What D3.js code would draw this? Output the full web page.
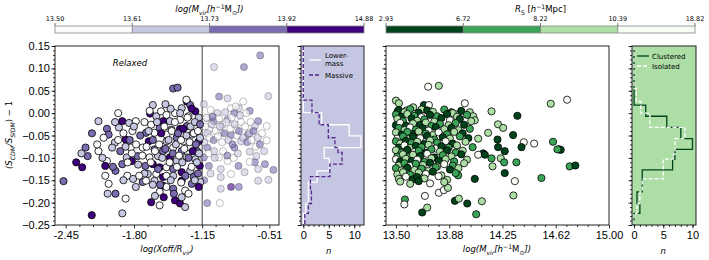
<!DOCTYPE html>
<html>
<head>
<meta charset="utf-8">
<script src="https://cdn.jsdelivr.net/npm/d3@7"></script>
<style>
  body { margin: 0; background: #fff; }
  svg { font-family: "DejaVu Sans", sans-serif; }
</style>
</head>
<body>
<svg id="chart" width="709" height="260"></svg>
<script>
// ---- data ----
const yTicks = [0.15, 0.10, 0.05, 0.00, -0.05, -0.10, -0.15, -0.20, -0.25];
const xoffTicks = [-2.45, -1.80, -1.15, -0.51];
const xoffTickLabels = ["-2.45", "-1.80", "-1.15", "-0.51"];
const massTicks = [13.50, 13.875, 14.25, 14.625, 15.00];
const massTickLabels = ["13.50", "13.88", "14.25", "14.62", "15.00"];
const massBinLabels = ["13.50", "13.61", "13.73", "13.92", "14.88"];
const r5BinLabels = ["2.93", "6.72", "8.22", "10.39", "18.82"];
const nTicks = [0, 5, 10];
const relaxedCut = -1.15;

// [log(Xoff/Rvir), S_CDM/S_SIDM - 1, mass bin]
const offsetPoints = [
  [-0.597,0.129,2],[-1.037,0.103,1],[-0.752,0.103,2],[-0.519,0.038,1],[-0.989,0.037,2],[-0.759,0.026,0],
  [-0.908,0.033,1],[-1.134,0.020,1],[-0.875,0.011,0],[-0.801,0.011,1],[-0.697,0.005,2],[-0.617,-0.018,2],
  [-1.070,0.007,0],[-1.005,0.000,1],[-0.843,0.000,2],[-0.649,-0.029,1],[-0.536,-0.029,0],[-0.536,-0.061,0],
  [-0.714,-0.048,2],[-0.827,-0.037,0],[-0.956,-0.026,1],[-0.908,-0.015,2],[-1.037,-0.018,2],[-1.102,-0.011,1],
  [-1.086,-0.037,0],[-0.973,-0.044,0],[-0.875,-0.049,2],[-0.778,-0.063,1],[-0.843,-0.077,2],[-0.697,-0.086,1],
  [-0.633,-0.096,1],[-0.649,-0.110,2],[-0.552,-0.114,2],[-0.617,-0.125,1],[-0.697,-0.109,0],[-0.804,-0.118,2],
  [-0.746,-0.132,1],[-0.989,-0.099,0],[-1.037,-0.085,1],[-1.102,-0.077,2],[-1.134,-0.099,2],[-1.086,-0.118,2],
  [-0.973,-0.125,1],[-0.908,-0.107,0],[-0.875,-0.136,0],[-0.973,-0.143,1],[-0.875,-0.165,3],[-0.973,-0.169,1],
  [-1.102,-0.201,2],[-0.982,-0.201,0],[-0.519,-0.149,1],[-0.471,-0.127,2],[-0.617,-0.151,1],[-0.801,-0.165,2],
  [-1.12,-0.030,0],[-1.10,-0.045,1],[-1.08,-0.055,0],[-1.06,-0.025,1],[-1.04,-0.060,2],[-1.02,-0.040,0],
  [-1.00,-0.052,0],[-0.98,-0.030,1],[-0.96,-0.065,0],[-0.94,-0.045,2],[-0.92,-0.020,0],[-0.90,-0.060,1],
  [-0.88,-0.035,0],[-0.86,-0.070,2],[-0.84,-0.025,1],[-0.82,-0.050,0],[-0.80,-0.040,2],[-0.78,-0.020,0],
  [-0.76,-0.055,1],[-0.74,-0.030,0],[-0.72,-0.065,2],[-0.70,-0.045,1],[-0.68,-0.060,0],[-0.66,-0.040,2],
  [-0.64,-0.075,0],[-0.62,-0.055,1],[-1.13,-0.065,1],[-1.11,-0.010,0],[-1.05,-0.008,2],[-0.99,-0.012,0],
  [-0.93,0.002,1],[-0.87,-0.010,0],[-0.83,0.015,0],[-0.79,-0.005,1],[-0.73,0.000,0],[-0.69,-0.020,0],
  [-1.09,-0.090,0],[-1.03,-0.100,1],[-0.95,-0.085,0],[-0.91,-0.095,2],[-0.85,-0.100,0],[-0.81,-0.090,1],
  [-1.07,-0.135,1],[-1.13,-0.150,2],[-0.58,-0.045,0],[-0.60,-0.070,2],[-0.56,-0.085,1],
  [-2.471,-0.152,2],[-2.293,-0.121,3],[-2.202,-0.228,3],[-2.241,-0.096,2],[-2.261,-0.077,2],[-2.138,-0.018,1],
  [-2.057,-0.035,2],[-2.041,-0.048,2],[-2.089,-0.055,0],[-1.982,-0.066,1],[-2.008,-0.077,1],[-2.138,-0.085,0],
  [-2.057,-0.107,0],[-2.073,-0.118,3],[-1.976,-0.129,2],[-2.073,-0.140,0],[-2.041,-0.158,0],[-1.976,-0.180,2],
  [-1.879,-0.191,0],[-1.911,-0.224,1],[-1.943,-0.032,1],[-1.911,-0.018,3],[-1.846,-0.022,1],[-1.782,-0.018,0],
  [-1.814,-0.040,0],[-1.879,-0.059,3],[-1.830,-0.077,0],[-1.869,-0.099,1],[-1.911,-0.114,2],[-1.820,-0.107,3],
  [-1.765,-0.096,2],[-1.863,-0.140,0],[-1.808,-0.147,1],[-1.782,-0.165,1],[-1.717,-0.154,2],[-1.636,-0.199,3],
  [-1.555,-0.206,0],[-1.620,0.018,1],[-1.646,-0.001,3],[-1.587,-0.007,1],[-1.542,0.004,0],[-1.636,-0.026,0],
  [-1.685,-0.044,2],[-1.604,-0.044,0],[-1.555,-0.033,2],[-1.659,-0.063,3],[-1.717,-0.077,0],[-1.604,-0.081,2],
  [-1.652,-0.099,0],[-1.571,-0.096,1],[-1.691,-0.118,2],[-1.620,-0.114,3],[-1.555,-0.121,3],[-1.668,-0.136,1],
  [-1.587,-0.136,0],[-1.685,-0.151,0],[-1.604,-0.151,1],[-1.523,-0.143,3],[-1.620,-0.160,1],[-1.523,-0.162,3],
  [-1.555,-0.176,0],[-1.490,-0.165,0],[-1.516,-0.188,3],[-1.409,-0.195,3],[-1.361,-0.202,3],[-1.312,-0.210,1],
  [-1.345,-0.188,1],[-1.426,0.055,2],[-1.384,0.057,2],[-1.296,0.026,3],[-1.264,0.018,2],[-1.345,0.011,1],
  [-1.409,0.000,0],[-1.490,-0.004,0],[-1.458,-0.018,1],[-1.523,-0.018,3],[-1.361,-0.015,0],[-1.280,-0.007,0],
  [-1.215,0.004,3],[-1.183,-0.010,1],[-1.442,-0.037,1],[-1.361,-0.035,3],[-1.296,-0.029,2],[-1.490,-0.048,0],
  [-1.393,-0.055,2],[-1.329,-0.063,0],[-1.248,-0.048,1],[-1.183,-0.063,3],[-1.490,-0.063,1],[-1.523,-0.085,2],
  [-1.426,-0.077,0],[-1.345,-0.085,2],[-1.264,-0.077,0],[-1.199,-0.085,2],[-1.458,-0.099,3],[-1.393,-0.107,1],
  [-1.296,-0.099,0],[-1.215,-0.103,1],[-1.173,-0.118,3],[-1.490,-0.121,0],[-1.426,-0.125,2],[-1.345,-0.132,3],
  [-1.264,-0.129,1],[-1.231,-0.143,2],[-1.426,-0.140,1],[-1.345,-0.151,3],[-1.248,-0.158,2],[-1.167,-0.154,1],
  [-1.183,-0.165,3],[-1.312,-0.173,0],[-1.426,-0.169,2],
  [-1.98,-0.020,1],[-1.95,-0.060,0],[-1.93,-0.085,2],[-1.90,-0.045,0],[-1.88,-0.075,1],[-1.86,-0.110,0],
  [-1.84,-0.060,2],[-1.82,-0.090,0],[-1.80,-0.030,1],[-1.78,-0.070,0],[-1.76,-0.115,1],[-1.74,-0.050,2],
  [-1.72,-0.095,0],[-1.70,-0.020,0],[-1.70,-0.135,1],[-1.68,-0.075,0],[-1.66,-0.040,1],[-1.64,-0.110,0],
  [-1.62,-0.060,2],[-1.60,-0.085,0],[-1.58,-0.020,1],[-1.57,-0.125,2],[-1.56,-0.070,0],[-1.54,-0.045,3],
  [-1.53,-0.100,1],[-1.51,-0.030,0],[-1.50,-0.080,2],[-1.49,-0.140,0],[-1.47,-0.060,1],[-1.46,-0.110,0],
  [-1.45,0.010,1],[-1.44,-0.040,0],[-1.43,-0.090,2],[-1.41,-0.020,0],[-1.40,-0.070,1],[-1.39,-0.120,0],
  [-1.38,-0.045,2],[-1.37,-0.095,0],[-1.36,0.000,1],[-1.35,-0.060,0],[-1.34,-0.110,1],[-1.33,-0.035,3],
  [-1.32,-0.080,0],[-1.31,-0.140,2],[-1.30,-0.050,1],[-1.29,-0.010,0],[-1.28,-0.100,2],[-1.27,-0.065,0],
  [-1.26,-0.030,1],[-1.25,-0.120,0],[-1.24,-0.085,3],[-1.23,-0.045,0],[-1.22,-0.020,1],[-1.21,-0.070,2],
  [-1.20,-0.110,1],[-1.19,-0.040,0],[-1.18,-0.090,1],[-1.17,-0.025,2],[-1.17,-0.055,1],[-1.19,-0.135,2],
  [-1.22,-0.150,1],[-1.35,-0.155,0],[-1.45,-0.150,1],[-1.55,-0.160,2],[-1.75,-0.140,0],[-1.90,-0.150,1],
  [-2.00,-0.120,2],[-2.10,-0.100,1],[-2.15,-0.070,0],[-2.20,-0.045,2],[-2.30,-0.090,1],[-2.35,-0.110,3],
  [-2.05,-0.180,1],[-1.60,-0.185,1],[-1.42,-0.180,2],[-1.28,-0.180,0],[-1.95,0.000,0],[-1.65,0.005,0],
  [-1.50,0.020,1],[-1.30,0.030,0],[-1.25,0.010,3]
];

// [log Mvir, S_CDM/S_SIDM - 1, R5 bin]
const massPoints = [
  [13.727,0.059,3],[13.802,0.061,2],[13.985,0.022,3],[14.705,0.030,3],[14.590,0.021,2],[13.500,0.028,2],
  [13.521,0.022,2],[13.697,0.018,0],[13.732,0.018,3],[13.622,0.013,2],[13.680,0.008,2],[13.512,0.004,0],
  [13.575,0.006,2],[14.173,0.004,2],[13.891,0.002,0],[13.927,-0.003,2],[14.020,0.002,2],[14.044,-0.007,2],
  [14.055,-0.016,2],[14.355,-0.006,0],[14.219,-0.025,2],[14.255,-0.033,2],[14.149,-0.044,2],[14.079,-0.057,2],
  [14.325,-0.049,0],[14.400,-0.065,3],[14.473,-0.068,3],[14.606,-0.064,1],[14.648,-0.081,0],[14.660,-0.082,0],
  [14.637,-0.081,1],[14.384,-0.076,0],[14.215,-0.059,0],[14.219,-0.076,0],[14.114,-0.090,0],[14.079,-0.093,3],
  [14.126,-0.093,0],[14.266,-0.085,0],[14.238,-0.101,2],[14.262,-0.110,1],[14.348,-0.110,1],[14.173,-0.101,1],
  [14.180,-0.119,2],[14.723,-0.119,1],[14.763,-0.117,0],[14.524,-0.145,1],[14.337,-0.152,3],[14.266,-0.134,0],
  [14.055,-0.147,0],[13.938,-0.139,1],[14.327,-0.184,2],[14.105,-0.197,2],[14.002,-0.202,0],[14.065,-0.226,1],
  [13.915,-0.196,0],[13.943,-0.191,2],[13.563,-0.193,1],[13.559,-0.204,3],[13.685,-0.222,0],[13.720,-0.211,2],
  [13.704,-0.185,3],[13.802,-0.178,3],[13.837,-0.172,3],[13.866,-0.167,2],
  [13.52,0.007,0],[13.56,0.002,2],[13.60,0.009,1],[13.66,0.001,0],[13.72,0.006,0],[13.76,0.003,2],
  [13.84,0.008,1],[13.90,0.000,2],[13.96,0.005,0],
  [13.50,-0.003,1],[13.54,-0.008,0],[13.58,-0.002,2],[13.63,-0.006,1],[13.68,-0.009,3],[13.74,-0.004,0],
  [13.79,-0.007,1],[13.86,-0.002,0],[13.93,-0.008,2],[14.00,-0.004,1],
  [13.51,-0.013,2],[13.55,-0.018,1],[13.61,-0.012,0],[13.65,-0.017,2],[13.70,-0.014,1],[13.77,-0.019,2],
  [13.82,-0.011,0],[13.88,-0.016,3],[13.95,-0.013,0],[14.03,-0.018,2],
  [13.50,-0.027,0],[13.53,-0.022,3],[13.57,-0.028,0],[13.62,-0.023,2],[13.67,-0.026,0],[13.71,-0.021,2],
  [13.75,-0.029,1],[13.81,-0.024,1],[13.87,-0.027,2],[13.92,-0.022,1],[13.98,-0.026,0],
  [13.52,-0.033,1],[13.56,-0.038,2],[13.60,-0.032,3],[13.64,-0.037,1],[13.69,-0.034,0],[13.73,-0.039,3],
  [13.78,-0.031,0],[13.84,-0.036,2],[13.89,-0.033,0],[13.94,-0.038,2],[14.02,-0.035,1],
  [13.50,-0.043,2],[13.54,-0.048,0],[13.58,-0.042,1],[13.63,-0.047,0],[13.66,-0.041,2],[13.71,-0.046,1],
  [13.76,-0.049,2],[13.80,-0.043,3],[13.86,-0.047,1],[13.91,-0.042,2],[13.97,-0.045,0],
  [13.51,-0.057,3],[13.55,-0.052,1],[13.59,-0.058,2],[13.62,-0.053,0],[13.67,-0.056,3],[13.72,-0.051,0],
  [13.77,-0.059,1],[13.83,-0.054,0],[13.88,-0.057,2],[13.95,-0.052,1],[14.01,-0.056,0],
  [13.50,-0.063,1],[13.53,-0.068,2],[13.57,-0.062,0],[13.61,-0.067,1],[13.65,-0.064,2],[13.70,-0.069,0],
  [13.74,-0.061,2],[13.79,-0.066,1],[13.85,-0.063,3],[13.90,-0.068,0],[13.99,-0.064,2],
  [13.52,-0.077,0],[13.56,-0.072,3],[13.60,-0.078,2],[13.64,-0.073,0],[13.68,-0.076,1],[13.73,-0.071,2],
  [13.78,-0.079,3],[13.82,-0.074,0],[13.87,-0.077,1],[13.93,-0.072,2],[14.04,-0.076,1],
  [13.50,-0.083,2],[13.54,-0.088,1],[13.58,-0.082,0],[13.63,-0.087,3],[13.66,-0.084,1],[13.71,-0.089,0],
  [13.75,-0.081,1],[13.81,-0.086,2],[13.86,-0.083,0],[13.92,-0.088,1],[13.97,-0.084,2],
  [13.51,-0.097,1],[13.55,-0.092,2],[13.59,-0.098,1],[13.62,-0.093,2],[13.67,-0.096,0],[13.72,-0.091,3],
  [13.77,-0.099,0],[13.83,-0.094,1],[13.89,-0.097,2],[13.96,-0.092,0],
  [13.50,-0.103,3],[13.53,-0.108,0],[13.57,-0.102,2],[13.61,-0.107,0],[13.65,-0.104,3],[13.70,-0.109,1],
  [13.75,-0.101,2],[13.80,-0.106,0],[13.85,-0.103,2],[13.91,-0.108,1],[14.00,-0.104,2],
  [13.52,-0.117,2],[13.56,-0.112,1],[13.60,-0.118,3],[13.64,-0.113,1],[13.69,-0.116,2],[13.74,-0.111,0],
  [13.79,-0.119,2],[13.84,-0.114,3],[13.90,-0.117,1],[13.98,-0.112,2],
  [13.50,-0.123,1],[13.54,-0.128,2],[13.58,-0.122,0],[13.63,-0.127,2],[13.68,-0.124,1],[13.73,-0.129,2],
  [13.78,-0.121,1],[13.88,-0.126,0],[13.94,-0.123,2],
  [13.51,-0.137,2],[13.55,-0.132,2],[13.60,-0.138,1],[13.66,-0.133,2],[13.71,-0.136,3],[13.76,-0.131,0],
  [13.82,-0.139,2],[13.92,-0.134,1],
  [13.52,-0.147,2],[13.57,-0.142,3],[13.62,-0.148,0],[13.65,-0.143,0],[13.70,-0.146,2],[13.80,-0.141,3],
  [13.86,-0.149,2],
  [13.53,-0.153,2],[13.60,-0.158,2],[13.66,-0.152,0],[13.74,-0.157,3],[13.84,-0.154,2]
];

// histograms: bin edges (top to bottom) and n per bin
const lowerMassEdges = [0.15, 0.001, -0.026, -0.051, -0.077, -0.101, -0.129, -0.154, -0.202, -0.224, -0.25];
const lowerMassCounts = [0, 3.6, 9.0, 11.3, 4.1, 5.1, 2.7, 1.0, 0.5, 0];
const massiveEdges = [0.15, 0.029, 0.001, -0.026, -0.055, -0.077, -0.088, -0.114, -0.142, -0.173, -0.202, -0.224, -0.25];
const massiveCounts = [0, 1.7, 3.1, 4.9, 6.2, 6.8, 7.6, 5.2, 1.4, 1.6, 1.0, 0.3];
const clusteredEdges = [0.15, 0.018, -0.007, -0.032, -0.057, -0.081, -0.103, -0.127, -0.176, -0.202, -0.224, -0.25];
const clusteredCounts = [0, 2.0, 5.6, 8.0, 10.0, 7.0, 6.6, 1.4, 0.5, 1.0, 0];
const isolatedEdges = [0.15, 0.055, 0.026, 0.0, -0.032, -0.057, -0.092, -0.103, -0.147, -0.176, -0.202, -0.224, -0.25];
const isolatedCounts = [0, 0.4, 1.15, 2.7, 8.7, 7.0, 6.7, 5.0, 1.4, 1.0, 0.5, 0];

const purples = ["#fcfbfd", "#c6c7e1", "#7b6cb1", "#3f007d"];
const greens = ["#00441b", "#3ba458", "#acdea6", "#f7fcf5"];

// ---- layout ----
const svg = d3.select('#chart');
const yTop = 46, yBottom = 225;

const y = d3.scaleLinear().domain([-0.25, 0.15]).range([yBottom, yTop]);
const xOff = d3.scaleLinear().domain([-2.552, -0.418]).range([55, 279]);
const xN1 = d3.scaleLinear().domain([-0.45, 11.9]).range([301, 364]);
const xMass = d3.scaleLinear().domain([13.43, 15.0]).range([386, 609]);
const xN2 = d3.scaleLinear().domain([-0.35, 10.6]).range([632, 696]);

const massColor = d3.scaleOrdinal().domain([0, 1, 2, 3]).range(purples);
const r5Color = d3.scaleOrdinal().domain([0, 1, 2, 3]).range(greens);

const yMinor = d3.range(-25, 16).map(d => d / 100);

// styled text with sub/superscripts: parts = [text, 'sub'|'sup'|'', italic]
function richText(t, parts, size) {
    let shift = 0;
    parts.forEach(([txt, kind, it]) => {
        const target = kind === 'sub' ? size * 0.3 : kind === 'sup' ? -size * 0.4 : 0;
        t.append('tspan')
            .attr('dy', target - shift)
            .attr('font-size', kind ? size * 0.72 : size)
            .attr('font-style', it ? 'italic' : 'normal')
            .text(txt);
        shift = target;
    });
}

function yAxis(x0, labels) {
    const g = svg.append('g').attr('transform', `translate(${x0},0)`);
    g.append('g').call(d3.axisLeft(y).tickValues(yMinor).tickSize(2).tickFormat(''));
    g.append('g').call(d3.axisLeft(y).tickValues(yTicks).tickSize(3.5)
        .tickFormat(labels ? d3.format('.2f') : () => ''));
    g.selectAll('.domain').remove();
    g.selectAll('line').attr('stroke', '#000').attr('stroke-width', 0.8);
    g.selectAll('text').attr('font-size', 11).attr('fill', '#000').attr('x', -5);
    return g;
}

function xAxis(scale, major, minor, fmt) {
    const g = svg.append('g').attr('transform', `translate(0,${yBottom})`);
    g.append('g').call(d3.axisBottom(scale).tickValues(minor).tickSize(2).tickFormat(''));
    g.append('g').call(d3.axisBottom(scale).tickValues(major).tickSize(3.5).tickFormat(fmt));
    g.selectAll('.domain').remove();
    g.selectAll('line').attr('stroke', '#000').attr('stroke-width', 0.8);
    g.selectAll('text').attr('font-size', 11).attr('fill', '#000').attr('y', 6);
    return g;
}

function frame(xs) {
    svg.append('rect')
        .attr('x', xs.range()[0]).attr('y', yTop)
        .attr('width', xs.range()[1] - xs.range()[0]).attr('height', yBottom - yTop)
        .attr('fill', 'none').attr('stroke', '#222').attr('stroke-width', 1);
}

function minorBetween(ticks, k) {
    const out = [];
    for (let i = 0; i < ticks.length - 1; i++) {
        const step = (ticks[i + 1] - ticks[i]) / k;
        for (let j = 1; j < k; j++) out.push(ticks[i] + j * step);
    }
    return out;
}

function stepPath(edges, counts, xs) {
    const pts = [[0, edges[0]]];
    counts.forEach((c, i) => { pts.push([c, edges[i]]); pts.push([c, edges[i + 1]]); });
    pts.push([0, edges[edges.length - 1]]);
    return d3.line().x(d => xs(d[0])).y(d => y(d[1]))(pts);
}

function colorbar(x0, x1, colors, labels, title) {
    const pos = d3.scaleLinear().domain([0, colors.length]).range([x0, x1]);
    const g = svg.append('g');
    g.selectAll('rect.seg').data(colors).enter().append('rect')
        .attr('class', 'seg')
        .attr('x', (d, i) => pos(i)).attr('y', 26)
        .attr('width', (d, i) => pos(i + 1) - pos(i)).attr('height', 7)
        .attr('fill', d => d);
    g.selectAll('line.div').data(d3.range(1, colors.length)).enter().append('line')
        .attr('class', 'div')
        .attr('x1', d => pos(d)).attr('x2', d => pos(d)).attr('y1', 26).attr('y2', 33)
        .attr('stroke', '#777').attr('stroke-width', 0.8);
    g.append('rect').attr('x', x0).attr('y', 26).attr('width', x1 - x0).attr('height', 7)
        .attr('fill', 'none').attr('stroke', '#888').attr('stroke-width', 0.8);
    g.selectAll('line.tk').data(labels).enter().append('line')
        .attr('class', 'tk')
        .attr('x1', (d, i) => pos(i)).attr('x2', (d, i) => pos(i))
        .attr('y1', 23).attr('y2', 26).attr('stroke', '#555').attr('stroke-width', 0.8);
    g.selectAll('text.tl').data(labels).enter().append('text')
        .attr('class', 'tl')
        .attr('x', (d, i) => pos(i)).attr('y', 21)
        .attr('text-anchor', 'middle').attr('font-size', 6.5).text(d => d);
    const t = g.append('text').attr('x', (x0 + x1) / 2).attr('y', 12).attr('text-anchor', 'middle');
    richText(t, title, 8.5);
}

// ---- colorbars ----
colorbar(55, 364, purples, massBinLabels,
    [['log(M', '', true], ['vir', 'sub', true], ['[h', '', true], ['−1', 'sup', false],
     ['M', '', false], ['⊙', 'sub', false], ['])', '', true]]);
colorbar(386, 695, greens, r5BinLabels,
    [['R', '', true], ['5', 'sub', false], [' [', '', false], ['h', '', true], ['−1', 'sup', false],
     ['Mpc]', '', false]]);

// ---- panel 1: offset scatter ----
const p1 = svg.append('g');
p1.append('line')
    .attr('x1', xOff(relaxedCut)).attr('x2', xOff(relaxedCut))
    .attr('y1', yTop).attr('y2', yBottom)
    .attr('stroke', '#444').attr('stroke-width', 1);
p1.selectAll('circle').data(offsetPoints).enter().append('circle')
    .attr('cx', d => xOff(d[0])).attr('cy', d => y(d[1])).attr('r', 3.6)
    .attr('fill', d => massColor(d[2]))
    .attr('fill-opacity', d => d[0] > relaxedCut ? 0.6 : 1)
    .attr('stroke', '#000')
    .attr('stroke-opacity', d => d[0] > relaxedCut ? 0.3 : 1)
    .attr('stroke-width', 0.8);
frame(xOff);
yAxis(55, true);
xAxis(xOff, xoffTicks, minorBetween(xoffTicks, 5), (d, i) => xoffTickLabels[i]);
p1.append('text').attr('x', 130).attr('y', 66).attr('text-anchor', 'middle')
    .attr('font-size', 8.5).attr('font-style', 'italic').text('Relaxed');

// ---- panel 2: histogram by mass ----
svg.append('rect').attr('x', 301).attr('y', yTop).attr('width', 63).attr('height', yBottom - yTop)
    .attr('fill', '#c5c6e1');
svg.append('path').attr('d', stepPath(lowerMassEdges, lowerMassCounts, xN1))
    .attr('fill', 'none').attr('stroke', '#fff').attr('stroke-width', 1.3);
svg.append('path').attr('d', stepPath(massiveEdges, massiveCounts, xN1))
    .attr('fill', 'none').attr('stroke', '#54278f').attr('stroke-width', 1.3)
    .attr('stroke-dasharray', '4,2');
frame(xN1);
yAxis(301, false);
xAxis(xN1, nTicks, d3.range(0, 12), d3.format('d'));

const leg1 = svg.append('g').attr('font-size', 7);
leg1.append('line').attr('x1', 309).attr('x2', 321).attr('y1', 60).attr('y2', 60)
    .attr('stroke', '#fff').attr('stroke-width', 1.3);
leg1.append('text').attr('x', 325).attr('y', 58).text('Lower-');
leg1.append('text').attr('x', 325).attr('y', 66).text('mass');
leg1.append('line').attr('x1', 309).attr('x2', 321).attr('y1', 75).attr('y2', 75)
    .attr('stroke', '#54278f').attr('stroke-width', 1.3).attr('stroke-dasharray', '4,2');
leg1.append('text').attr('x', 325).attr('y', 77.5).text('Massive');

// ---- panel 3: mass scatter ----
const p3 = svg.append('g');
p3.selectAll('circle').data(massPoints).enter().append('circle')
    .attr('cx', d => xMass(d[0])).attr('cy', d => y(d[1])).attr('r', 3.6)
    .attr('fill', d => r5Color(d[2]))
    .attr('stroke', '#000').attr('stroke-width', 0.8);
frame(xMass);
yAxis(386, false);
xAxis(xMass, massTicks, minorBetween(massTicks, 5), (d, i) => massTickLabels[i]);

// ---- panel 4: histogram by environment ----
svg.append('rect').attr('x', 632).attr('y', yTop).attr('width', 64).attr('height', yBottom - yTop)
    .attr('fill', '#acdea6');
svg.append('path').attr('d', stepPath(clusteredEdges, clusteredCounts, xN2))
    .attr('fill', 'none').attr('stroke', '#00441b').attr('stroke-width', 1.3);
svg.append('path').attr('d', stepPath(isolatedEdges, isolatedCounts, xN2))
    .attr('fill', 'none').attr('stroke', '#fff').attr('stroke-width', 1.3)
    .attr('stroke-dasharray', '4,2');
frame(xN2);
yAxis(632, false);
xAxis(xN2, nTicks, d3.range(0, 11), d3.format('d'));

const leg2 = svg.append('g').attr('font-size', 7);
leg2.append('line').attr('x1', 637).attr('x2', 649).attr('y1', 56).attr('y2', 56)
    .attr('stroke', '#00441b').attr('stroke-width', 1.3);
leg2.append('text').attr('x', 652).attr('y', 58.5).text('Clustered');
leg2.append('line').attr('x1', 637).attr('x2', 649).attr('y1', 66).attr('y2', 66)
    .attr('stroke', '#fff').attr('stroke-width', 1.3).attr('stroke-dasharray', '4,2');
leg2.append('text').attr('x', 652).attr('y', 68.5).text('Isolated');

// ---- axis titles ----
const xl1 = svg.append('text').attr('x', 167).attr('y', 252).attr('text-anchor', 'middle');
richText(xl1, [['log(Xoff/R', '', true], ['vir', 'sub', true], [')', '', true]], 8.5);
const xl3 = svg.append('text').attr('x', 497).attr('y', 252).attr('text-anchor', 'middle');
richText(xl3, [['log(M', '', true], ['vir', 'sub', true], ['[h', '', true], ['−1', 'sup', false],
    ['M', '', false], ['⊙', 'sub', false], ['])', '', true]], 8.5);
svg.append('text').attr('x', xN1(5)).attr('y', 254).attr('text-anchor', 'middle')
    .attr('font-size', 8.5).attr('font-style', 'italic').text('n');
svg.append('text').attr('x', xN2(5)).attr('y', 254).attr('text-anchor', 'middle')
    .attr('font-size', 8.5).attr('font-style', 'italic').text('n');

const yl = svg.append('text').attr('transform', 'translate(12,135) rotate(-90)')
    .attr('text-anchor', 'middle');
richText(yl, [['(S', '', true], ['CDM', 'sub', true], ['/S', '', true], ['SIDM', 'sub', true],
    [') − 1', '', false]], 8.5);
</script>
</body>
</html>
